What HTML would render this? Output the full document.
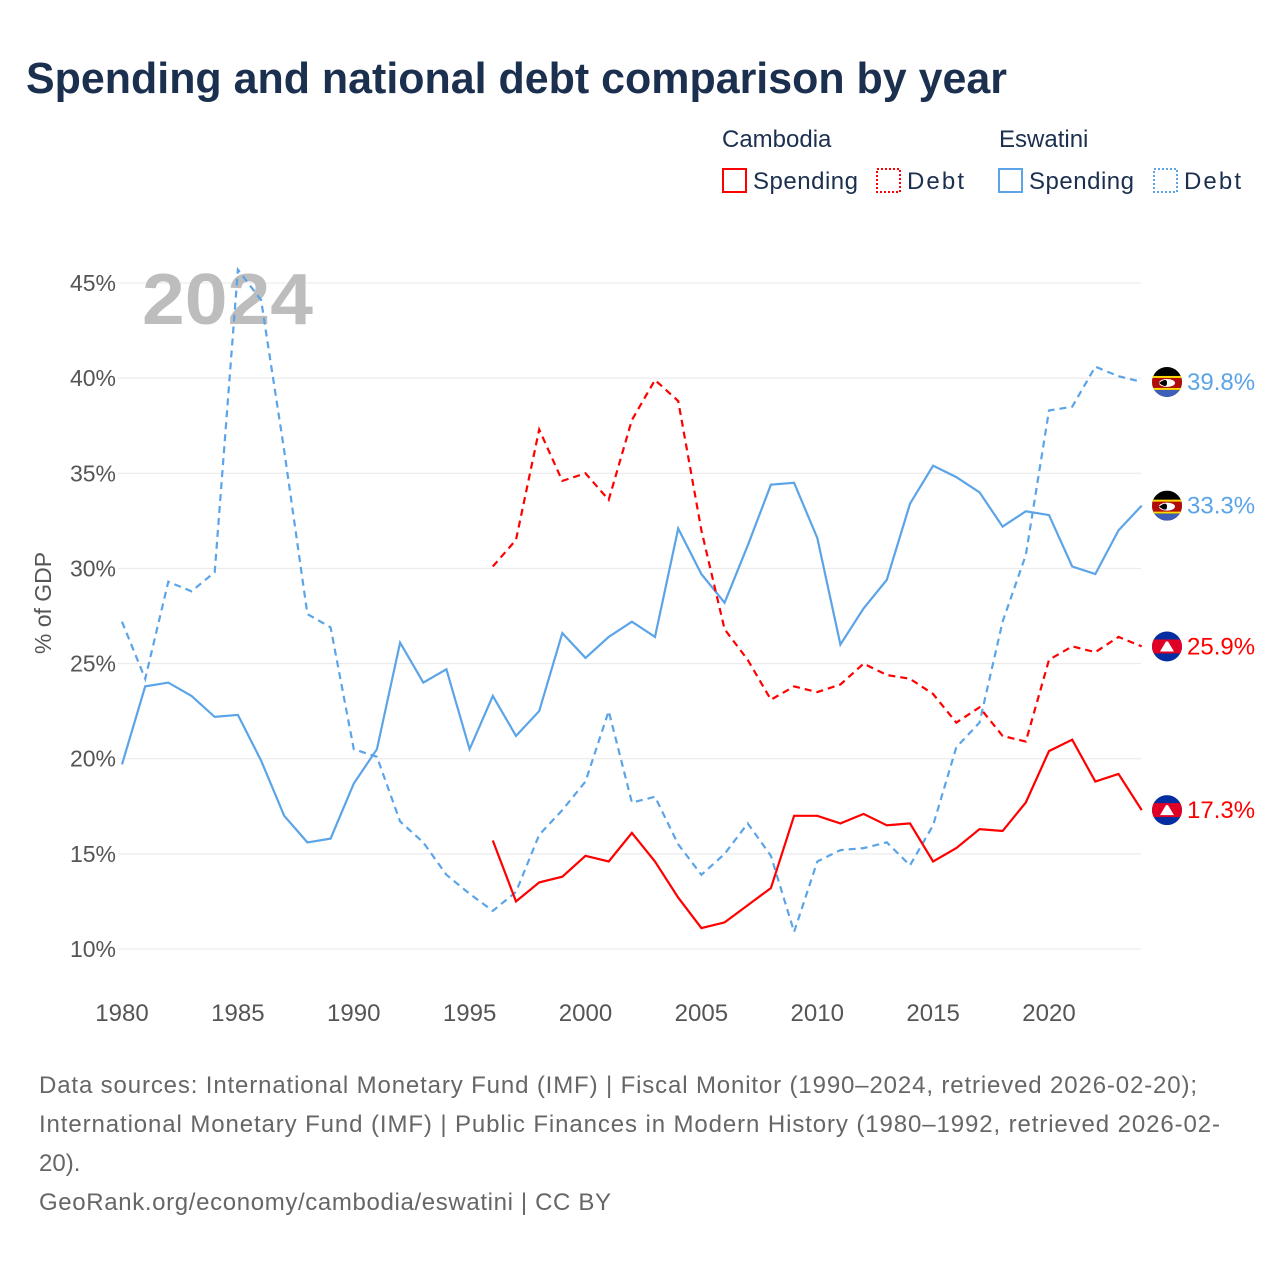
<!DOCTYPE html>
<html><head><meta charset="utf-8">
<style>
body{margin:0;background:#fff;width:1280px;height:1280px;overflow:hidden;font-family:"Liberation Sans",sans-serif;}
svg text{font-family:"Liberation Sans",sans-serif;}
</style></head>
<body>
<svg id="chart" width="1280" height="1280" xmlns="http://www.w3.org/2000/svg">
<text x="26" y="93" font-size="44" font-weight="bold" fill="#1b2f4e" textLength="981" lengthAdjust="spacingAndGlyphs">Spending and national debt comparison by year</text>
<g font-size="24" fill="#1b2f4e">
<text x="722" y="147">Cambodia</text>
<text x="999" y="147">Eswatini</text>
<g><rect x="723" y="169" width="23" height="23" fill="none" stroke="#f00" stroke-width="2"/><text x="753" y="189" textLength="105">Spending</text></g>
<g><rect x="877" y="169" width="23" height="23" fill="none" stroke="#f00" stroke-width="2" stroke-dasharray="2,2"/><text x="907" y="189" textLength="57">Debt</text></g>
<g><rect x="999" y="169" width="23" height="23" fill="none" stroke="#5ba4e8" stroke-width="2"/><text x="1029" y="189" textLength="105">Spending</text></g>
<g><rect x="1154" y="169" width="23" height="23" fill="none" stroke="#5ba4e8" stroke-width="2" stroke-dasharray="2,2"/><text x="1184" y="189" textLength="57">Debt</text></g>
</g>
<g id="grid"></g>
<text x="142" y="324" font-size="72" font-weight="bold" fill="#bdbdbd" textLength="171" lengthAdjust="spacingAndGlyphs">2024</text>
<text transform="translate(51,603) rotate(-90)" text-anchor="middle" font-size="23" fill="#555">% of GDP</text>
<g id="series"></g>
<g font-size="24" fill="#666">
<text x="39" y="1093" textLength="1158">Data sources: International Monetary Fund (IMF) | Fiscal Monitor (1990–2024, retrieved 2026-02-20);</text>
<text x="39" y="1132" textLength="1181">International Monetary Fund (IMF) | Public Finances in Modern History (1980–1992, retrieved 2026-02-</text>
<text x="39" y="1171">20).</text>
<text x="39" y="1210" textLength="572">GeoRank.org/economy/cambodia/eswatini | CC BY</text>
</g>
</svg>
<script>
const yTicks=[10,15,20,25,30,35,40,45];
const xTicks=[1980,1985,1990,1995,2000,2005,2010,2015,2020];
const eswYears=[];for(let y=1980;y<=2024;y++)eswYears.push(y);
const khmYears=[];for(let y=1996;y<=2024;y++)khmYears.push(y);
const eswSpending=[19.7,23.8,24.0,23.3,22.2,22.3,19.9,17.0,15.6,15.8,18.7,20.5,26.1,24.0,24.7,20.5,23.3,21.2,22.5,26.6,25.3,26.4,27.2,26.4,32.1,29.7,28.2,31.2,34.4,34.5,31.6,26.0,27.9,29.4,33.4,35.4,34.8,34.0,32.2,33.0,32.8,30.1,29.7,32.0,33.3];
const eswDebt=[27.2,24.2,29.3,28.8,29.8,45.7,44.1,36.2,27.6,26.9,20.5,20.1,16.7,15.6,13.9,12.9,12.0,13.0,16.0,17.3,18.8,22.5,17.7,18.0,15.5,13.9,15.0,16.6,14.9,10.9,14.6,15.2,15.3,15.6,14.4,16.5,20.6,21.9,27.2,30.7,38.3,38.5,40.6,40.1,39.8];
const khmSpending=[15.7,12.5,13.5,13.8,14.9,14.6,16.1,14.6,12.7,11.1,11.4,12.3,13.2,17.0,17.0,16.6,17.1,16.5,16.6,14.6,15.3,16.3,16.2,17.7,20.4,21.0,18.8,19.2,17.3];
const khmDebt=[30.1,31.5,37.3,34.6,35.0,33.6,37.8,39.9,38.8,32.0,26.8,25.2,23.1,23.8,23.5,23.9,25.0,24.4,24.2,23.4,21.9,22.7,21.2,20.9,25.2,25.9,25.6,26.4,25.9];

const NS="http://www.w3.org/2000/svg";
const X=y=>122+(y-1980)*(927/40);
const Y=v=>949-(v-10)*(666/35);
function el(t,a,p){const e=document.createElementNS(NS,t);for(const k in a)e.setAttribute(k,a[k]);p.appendChild(e);return e;}
const grid=document.getElementById('grid');
yTicks.forEach(v=>{
  const l=el('line',{x1:118,x2:1141,y1:Y(v),y2:Y(v),stroke:'#e8e8e8','stroke-width':1},grid);
  
  
  const t=el('text',{x:116,y:Y(v)+8,'text-anchor':'end','font-size':23,fill:'#555'},grid);
  t.textContent=v+'%';
  
  
});
xTicks.forEach(y=>{
  const t=el('text',{x:X(y),y:1021,'text-anchor':'middle','font-size':24,fill:'#555'},grid);
  t.textContent=y;
  
  
});
const series=document.getElementById('series');
function line(years,vals,color,dash,name){
  const d=years.map((y,i)=>(i?'L':'M')+X(y).toFixed(1)+','+Y(vals[i]).toFixed(1)).join('');
  const p=el('path',{d:d,fill:'none',stroke:color,'stroke-width':2.2,'stroke-dasharray':dash||'none'},series);
  
  
}
line(eswYears,eswDebt,'#5ba4e8','7,5','eswatini-debt-line');
line(eswYears,eswSpending,'#5ba4e8','','eswatini-spending-line');
line(khmYears,khmDebt,'#f00','7,5','cambodia-debt-line');
line(khmYears,khmSpending,'#f00','','cambodia-spending-line');

function flag(cy,type,val,color,name){
  const g=el('g',{},series);
  
  
  const cx=1167,r=15;
  const id='c'+Math.round(cy);
  const cp=el('clipPath',{id:id},g);el('circle',{cx:cx,cy:cy,r:r},cp);
  const f=el('g',{'clip-path':'url(#'+id+')'},g);
  if(type==='swz'){
    el('rect',{x:cx-r,y:cy-r,width:2*r,height:2*r,fill:'#000'},f);
    el('rect',{x:cx-r,y:cy-6,width:2*r,height:14,fill:'#ffd900'},f);
    el('rect',{x:cx-r,y:cy-4,width:2*r,height:10,fill:'#b10c0c'},f);
    el('rect',{x:cx-r,y:cy+8,width:2*r,height:8,fill:'#3e5eb9'},f);
    el('ellipse',{cx:cx,cy:cy+1,rx:8,ry:4,fill:'#fff'},f);
    el('path',{d:`M${cx-8},${cy+1} Q${cx},${cy-5} ${cx},${cy+1} Q${cx},${cy+7} ${cx-8},${cy+1}Z`,fill:'#000'},f);
  }else{
    el('rect',{x:cx-r,y:cy-r,width:2*r,height:2*r,fill:'#032ea1'},f);
    el('rect',{x:cx-r,y:cy-7,width:2*r,height:14,fill:'#e00025'},f);
    el('path',{d:`M${cx-7},${cy+5}L${cx+7},${cy+5}L${cx+4},${cy}L${cx+1},${cy-5}L${cx-1},${cy-5}L${cx-4},${cy}Z`,fill:'#fff'},f);
  }
  const t=el('text',{x:1187,y:cy+8,'font-size':24,fill:color},g);
  t.textContent=val.toFixed(1)+'%';
}
flag(Y(eswDebt[eswDebt.length-1]),'swz',eswDebt[eswDebt.length-1],'#5ba4e8','eswatini-debt-end-label');
flag(Y(eswSpending[eswSpending.length-1]),'swz',eswSpending[eswSpending.length-1],'#5ba4e8','eswatini-spending-end-label');
flag(Y(khmDebt[khmDebt.length-1]),'khm',khmDebt[khmDebt.length-1],'#f00','cambodia-debt-end-label');
flag(Y(khmSpending[khmSpending.length-1]),'khm',khmSpending[khmSpending.length-1],'#f00','cambodia-spending-end-label');
</script>
</body></html>
